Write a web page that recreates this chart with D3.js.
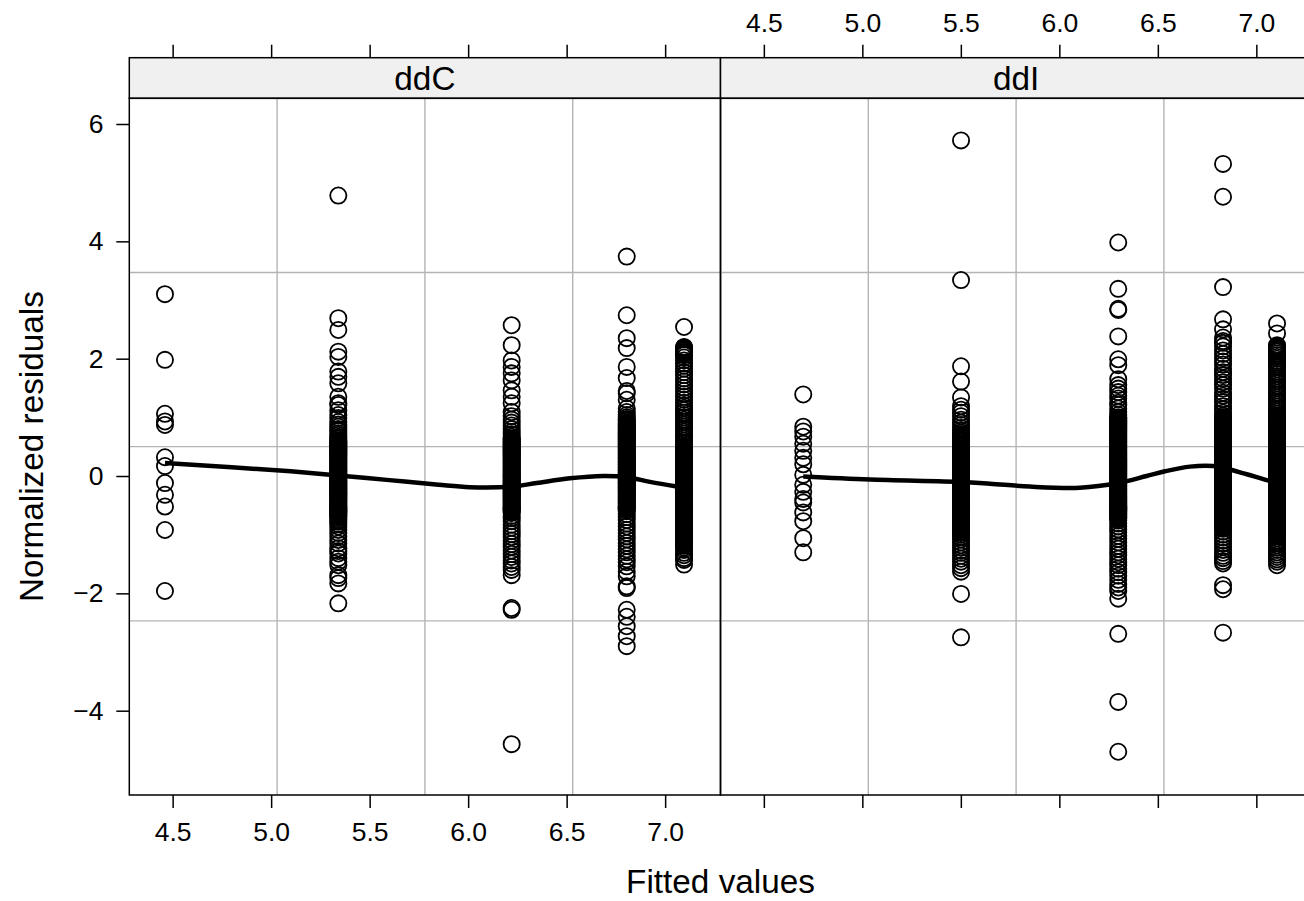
<!DOCTYPE html>
<html><head><meta charset="utf-8">
<script src="https://cdn.jsdelivr.net/npm/d3@7"></script>
<style>
html,body{margin:0;padding:0;background:#fff;overflow:hidden}
svg{display:block;font-family:"Liberation Sans",Arial,Helvetica,sans-serif}
</style></head>
<body>
<svg id="chart" width="1304" height="901"></svg>
<script>
// ---------- data ----------
const panels = ["ddC", "ddI"];
const xTicks = [4.5, 5.0, 5.5, 6.0, 6.5, 7.0];
const xTickLabels = ["4.5", "5.0", "5.5", "6.0", "6.5", "7.0"];
const yTicks = [-4, -2, 0, 2, 4, 6];
const yTickLabels = ["\u22124", "\u22122", "0", "2", "4", "6"];
const xDomain = [4.28, 7.281];
const yDomain = [-5.437, 6.438];

const ddC_fitted = [4.461, 5.341, 6.221, 6.805, 7.096];
const ddC_resid = [
  [3.10, 1.98, 1.06, 0.93, 0.87, 0.32, 0.17, -0.12, -0.32, -0.52, -0.92, -1.96],
  [4.78, 2.69, 2.49, 2.12, 2.03, 1.78, 1.69, 1.58, 1.35, 1.24, 1.21, 1.12, 1.04, 0.99, 0.92, 0.88, 0.84, 0.80, 0.77, 0.73, 0.70, 0.67, 0.64, 0.61, 0.59, 0.56, 0.54, 0.51, 0.49, 0.46, 0.44, 0.41, 0.39, 0.36, 0.34, 0.31, 0.29, 0.26, 0.24, 0.21, 0.19, 0.16, 0.14, 0.11, 0.09, 0.06, 0.04, 0.01, -0.01, -0.04, -0.06, -0.09, -0.11, -0.14, -0.16, -0.19, -0.21, -0.24, -0.26, -0.29, -0.31, -0.34, -0.36, -0.39, -0.41, -0.44, -0.46, -0.49, -0.51, -0.54, -0.56, -0.59, -0.61, -0.64, -0.66, -0.69, -0.72, -0.75, -0.78, -0.82, -0.86, -0.92, -0.97, -1.03, -1.09, -1.15, -1.23, -1.28, -1.32, -1.40, -1.46, -1.52, -1.69, -1.74, -1.83, -2.17],
  [2.57, 2.23, 1.97, 1.86, 1.75, 1.63, 1.46, 1.35, 1.24, 1.09, 1.02, 0.96, 0.91, 0.86, 0.80, 0.75, 0.71, 0.67, 0.64, 0.61, 0.59, 0.56, 0.54, 0.51, 0.49, 0.46, 0.44, 0.41, 0.39, 0.36, 0.34, 0.31, 0.29, 0.26, 0.24, 0.21, 0.19, 0.16, 0.14, 0.11, 0.09, 0.06, 0.04, 0.01, -0.01, -0.04, -0.06, -0.09, -0.11, -0.14, -0.16, -0.19, -0.21, -0.24, -0.26, -0.29, -0.31, -0.34, -0.36, -0.39, -0.41, -0.44, -0.46, -0.49, -0.51, -0.54, -0.56, -0.59, -0.63, -0.68, -0.72, -0.77, -0.83, -0.88, -0.94, -0.99, -1.04, -1.10, -1.16, -1.21, -1.27, -1.33, -1.38, -1.44, -1.49, -1.55, -1.60, -1.69, -2.25, -2.28, -4.57],
  [3.74, 2.74, 2.35, 2.18, 1.86, 1.67, 1.45, 1.41, 1.30, 1.15, 1.09, 1.04, 1.00, 0.97, 0.94, 0.91, 0.88, 0.86, 0.83, 0.81, 0.78, 0.76, 0.73, 0.71, 0.68, 0.66, 0.63, 0.61, 0.58, 0.56, 0.53, 0.51, 0.48, 0.46, 0.43, 0.41, 0.38, 0.36, 0.33, 0.31, 0.28, 0.26, 0.23, 0.21, 0.18, 0.16, 0.13, 0.11, 0.08, 0.06, 0.03, 0.01, -0.02, -0.04, -0.07, -0.09, -0.12, -0.14, -0.17, -0.19, -0.22, -0.24, -0.27, -0.29, -0.32, -0.34, -0.37, -0.39, -0.42, -0.44, -0.47, -0.49, -0.52, -0.54, -0.57, -0.60, -0.65, -0.70, -0.75, -0.81, -0.86, -0.92, -0.97, -1.03, -1.08, -1.14, -1.19, -1.25, -1.30, -1.36, -1.42, -1.47, -1.54, -1.63, -1.71, -1.88, -1.91, -2.28, -2.40, -2.56, -2.73, -2.90],
  [2.54, 2.20, 2.18, 2.16, 2.14, 2.12, 2.10, 2.08, 2.06, 2.02, 1.97, 1.92, 1.88, 1.83, 1.77, 1.72, 1.66, 1.61, 1.56, 1.50, 1.45, 1.40, 1.35, 1.30, 1.25, 1.20, 1.16, 1.12, 1.08, 1.04, 1.00, 0.96, 0.92, 0.88, 0.84, 0.80, 0.76, 0.72, 0.68, 0.64, 0.60, 0.56, 0.52, 0.49, 0.46, 0.44, 0.41, 0.39, 0.36, 0.34, 0.31, 0.29, 0.26, 0.24, 0.21, 0.19, 0.16, 0.14, 0.11, 0.09, 0.06, 0.04, 0.01, -0.01, -0.04, -0.06, -0.09, -0.11, -0.14, -0.16, -0.19, -0.21, -0.24, -0.26, -0.29, -0.31, -0.34, -0.36, -0.39, -0.41, -0.44, -0.46, -0.49, -0.51, -0.54, -0.56, -0.59, -0.61, -0.64, -0.66, -0.69, -0.71, -0.74, -0.76, -0.79, -0.81, -0.84, -0.86, -0.89, -0.91, -0.94, -0.96, -0.99, -1.01, -1.04, -1.06, -1.09, -1.11, -1.14, -1.16, -1.19, -1.22, -1.26, -1.31, -1.35, -1.40, -1.43, -1.51]
];
// additional residuals inside the solid black cores
const ddC_core = [
  [],
  [0.575, 0.525, 0.475, 0.425, 0.375, 0.325, 0.275, 0.225, 0.175, 0.125, 0.075, 0.025, -0.025, -0.075, -0.125, -0.175, -0.225, -0.275, -0.325, -0.375, -0.425, -0.475, -0.525, -0.575, -0.625, -0.675],
  [0.625, 0.575, 0.525, 0.475, 0.425, 0.375, 0.325, 0.275, 0.225, 0.175, 0.125, 0.075, 0.025, -0.025, -0.075, -0.125, -0.175, -0.225, -0.275, -0.325, -0.375, -0.425, -0.475, -0.525, -0.575, -0.61],
  [0.955, 0.895, 0.845, 0.795, 0.745, 0.695, 0.645, 0.595, 0.545, 0.495, 0.445, 0.395, 0.345, 0.295, 0.245, 0.195, 0.145, 0.095, 0.045, -0.005, -0.055, -0.105, -0.155, -0.205, -0.255, -0.305, -0.355, -0.405, -0.455, -0.505, -0.555],
  [0.505, 0.475, 0.425, 0.375, 0.325, 0.275, 0.225, 0.175, 0.125, 0.075, 0.025, -0.025, -0.075, -0.125, -0.175, -0.225, -0.275, -0.325, -0.375, -0.425, -0.475, -0.525, -0.575, -0.625, -0.675, -0.725, -0.775, -0.825, -0.875, -0.925, -0.975, -1.025, -1.075, -1.125, -1.175, 2.19, 2.15, 2.11, 2.07]
];

const ddI_fitted = [4.700, 5.501, 6.299, 6.831, 7.105];
const ddI_resid = [
  [1.39, 0.84, 0.76, 0.67, 0.55, 0.43, 0.31, 0.20, 0.02, -0.15, -0.27, -0.39, -0.45, -0.62, -0.77, -1.06, -1.30],
  [5.72, 3.34, 1.87, 1.61, 1.34, 1.19, 1.13, 1.08, 1.02, 0.96, 0.91, 0.87, 0.82, 0.78, 0.74, 0.71, 0.68, 0.66, 0.63, 0.61, 0.58, 0.56, 0.53, 0.51, 0.48, 0.46, 0.43, 0.41, 0.38, 0.36, 0.33, 0.31, 0.28, 0.26, 0.23, 0.21, 0.18, 0.16, 0.13, 0.11, 0.08, 0.06, 0.03, 0.01, -0.02, -0.04, -0.07, -0.09, -0.12, -0.14, -0.17, -0.19, -0.22, -0.24, -0.27, -0.29, -0.32, -0.34, -0.37, -0.39, -0.42, -0.44, -0.47, -0.49, -0.52, -0.54, -0.57, -0.59, -0.62, -0.64, -0.67, -0.69, -0.72, -0.74, -0.77, -0.79, -0.82, -0.84, -0.87, -0.89, -0.92, -0.94, -0.97, -1.00, -1.04, -1.08, -1.13, -1.18, -1.22, -1.27, -1.31, -1.36, -1.41, -1.46, -1.52, -1.57, -1.63, -2.01, -2.75],
  [3.98, 3.19, 2.85, 2.83, 2.38, 1.99, 1.89, 1.65, 1.55, 1.49, 1.43, 1.37, 1.32, 1.25, 1.21, 1.15, 1.09, 1.04, 1.00, 0.97, 0.95, 0.92, 0.90, 0.87, 0.85, 0.82, 0.80, 0.77, 0.75, 0.72, 0.70, 0.67, 0.65, 0.62, 0.60, 0.57, 0.55, 0.52, 0.50, 0.47, 0.45, 0.42, 0.40, 0.37, 0.35, 0.32, 0.30, 0.27, 0.25, 0.22, 0.20, 0.17, 0.15, 0.12, 0.10, 0.07, 0.05, 0.02, 0.00, -0.03, -0.05, -0.08, -0.10, -0.13, -0.15, -0.18, -0.20, -0.23, -0.25, -0.28, -0.30, -0.33, -0.35, -0.38, -0.40, -0.43, -0.45, -0.48, -0.50, -0.53, -0.55, -0.58, -0.60, -0.63, -0.65, -0.68, -0.70, -0.73, -0.76, -0.81, -0.86, -0.91, -0.96, -1.02, -1.07, -1.13, -1.19, -1.24, -1.30, -1.35, -1.41, -1.47, -1.52, -1.58, -1.64, -1.70, -1.77, -1.84, -1.90, -1.96, -2.09, -2.69, -3.85, -4.70],
  [5.32, 4.76, 3.22, 2.67, 2.50, 2.36, 2.30, 2.27, 2.21, 2.14, 2.08, 2.01, 1.95, 1.90, 1.83, 1.77, 1.72, 1.66, 1.60, 1.55, 1.49, 1.42, 1.37, 1.31, 1.26, 1.19, 1.14, 1.08, 1.03, 1.00, 0.97, 0.95, 0.92, 0.90, 0.87, 0.85, 0.82, 0.80, 0.77, 0.75, 0.72, 0.70, 0.67, 0.65, 0.62, 0.60, 0.57, 0.55, 0.52, 0.50, 0.47, 0.45, 0.42, 0.40, 0.37, 0.35, 0.32, 0.30, 0.27, 0.25, 0.22, 0.20, 0.17, 0.15, 0.12, 0.10, 0.07, 0.05, 0.02, 0.00, -0.03, -0.05, -0.08, -0.10, -0.13, -0.15, -0.18, -0.20, -0.23, -0.25, -0.28, -0.30, -0.33, -0.35, -0.38, -0.40, -0.43, -0.45, -0.48, -0.50, -0.53, -0.55, -0.58, -0.60, -0.63, -0.65, -0.68, -0.70, -0.73, -0.75, -0.78, -0.80, -0.83, -0.85, -0.88, -0.90, -0.95, -1.00, -1.05, -1.10, -1.15, -1.21, -1.26, -1.31, -1.36, -1.40, -1.45, -1.49, -1.86, -1.93, -2.67],
  [2.60, 2.43, 2.23, 2.20, 2.18, 2.15, 2.12, 2.09, 2.06, 2.03, 2.00, 1.96, 1.93, 1.90, 1.86, 1.82, 1.78, 1.74, 1.70, 1.66, 1.62, 1.58, 1.54, 1.50, 1.46, 1.42, 1.38, 1.34, 1.30, 1.26, 1.22, 1.18, 1.14, 1.10, 1.06, 1.02, 0.99, 0.96, 0.94, 0.91, 0.89, 0.86, 0.84, 0.81, 0.79, 0.76, 0.74, 0.71, 0.69, 0.66, 0.64, 0.61, 0.59, 0.56, 0.54, 0.51, 0.49, 0.46, 0.44, 0.41, 0.39, 0.36, 0.34, 0.31, 0.29, 0.26, 0.24, 0.21, 0.19, 0.16, 0.14, 0.11, 0.09, 0.06, 0.04, 0.01, -0.01, -0.04, -0.06, -0.09, -0.11, -0.14, -0.16, -0.19, -0.21, -0.24, -0.26, -0.29, -0.31, -0.34, -0.36, -0.39, -0.41, -0.44, -0.46, -0.49, -0.51, -0.54, -0.56, -0.59, -0.61, -0.64, -0.66, -0.69, -0.71, -0.74, -0.76, -0.79, -0.81, -0.84, -0.86, -0.89, -0.91, -0.94, -0.96, -0.99, -1.02, -1.06, -1.10, -1.14, -1.18, -1.22, -1.26, -1.30, -1.34, -1.38, -1.42, -1.46, -1.52]
];
const ddI_core = [
  [],
  [0.695, 0.645, 0.595, 0.545, 0.495, 0.445, 0.395, 0.345, 0.295, 0.245, 0.195, 0.145, 0.095, 0.045, -0.005, -0.055, -0.105, -0.155, -0.205, -0.255, -0.305, -0.355, -0.405, -0.455, -0.505, -0.555, -0.605, -0.655, -0.705, -0.755, -0.805, -0.855, -0.905, -0.955],
  [0.985, 0.935, 0.885, 0.835, 0.785, 0.735, 0.685, 0.635, 0.585, 0.535, 0.485, 0.435, 0.385, 0.335, 0.285, 0.235, 0.185, 0.135, 0.085, 0.035, -0.015, -0.065, -0.115, -0.165, -0.215, -0.265, -0.315, -0.365, -0.415, -0.465, -0.515, -0.565, -0.615, -0.665, -0.715],
  [0.985, 0.935, 0.885, 0.835, 0.785, 0.735, 0.685, 0.635, 0.585, 0.535, 0.485, 0.435, 0.385, 0.335, 0.285, 0.235, 0.185, 0.135, 0.085, 0.035, -0.015, -0.065, -0.115, -0.165, -0.215, -0.265, -0.315, -0.365, -0.415, -0.465, -0.515, -0.565, -0.615, -0.665, -0.715, -0.765, -0.815, -0.865],
  [0.975, 0.925, 0.875, 0.825, 0.775, 0.725, 0.675, 0.625, 0.575, 0.525, 0.475, 0.425, 0.375, 0.325, 0.275, 0.225, 0.175, 0.125, 0.075, 0.025, -0.025, -0.075, -0.125, -0.175, -0.225, -0.275, -0.325, -0.375, -0.425, -0.475, -0.525, -0.575, -0.625, -0.675, -0.725, -0.775, -0.825, -0.875, -0.925, -0.975, 2.21, 2.17, 2.13]
];

// smoother (loess) curve
const ddC_smoothX = [4.461, 4.80, 5.10, 5.341, 5.60, 5.85, 6.009, 6.221, 6.348, 6.517, 6.685, 6.805, 6.923, 7.059, 7.096];
const ddC_smoothY = [0.22, 0.15, 0.08, 0.01, -0.07, -0.15, -0.19, -0.18, -0.12, -0.04, 0.00, -0.02, -0.10, -0.18, -0.20];
const ddI_smoothX = [4.700, 5.038, 5.501, 5.648, 5.85, 6.104, 6.299, 6.443, 6.536, 6.663, 6.780, 6.831, 6.951, 7.053, 7.105];
const ddI_smoothY = [-0.01, -0.06, -0.10, -0.13, -0.18, -0.20, -0.12, 0.00, 0.08, 0.16, 0.17, 0.14, 0.03, -0.07, -0.11];

// ---------- layout ----------
const panelLeft = 129.3, panelW = 591.2;
const panelTop = 98.3, panelBottom = 795;
const stripTop = 57.7;
const tickLen = 13;
const tickFont = 26.5, titleFont = 33.3;

const svg = d3.select("#chart");
const y = d3.scaleLinear().domain(yDomain).range([panelBottom, panelTop]);

const panelData = [
  {name: panels[0], fitted: ddC_fitted, resid: ddC_resid, core: ddC_core, sx: ddC_smoothX, sy: ddC_smoothY},
  {name: panels[1], fitted: ddI_fitted, resid: ddI_resid, core: ddI_core, sx: ddI_smoothX, sy: ddI_smoothY}
];

panelData.forEach((p, i) => {
  const x0 = panelLeft + i * panelW;
  const x = d3.scaleLinear().domain(xDomain).range([x0, x0 + panelW]);
  const g = svg.append("g");

  // grid at quarters of the panel
  const gx = [0.25, 0.5, 0.75].map(f => x.invert(x0 + f * panelW));
  const gy = [0.25, 0.5, 0.75].map(f => y.invert(panelTop + f * (panelBottom - panelTop)));
  g.selectAll("line.gv").data(gx).join("line")
    .attr("x1", d => x(d)).attr("x2", d => x(d))
    .attr("y1", panelTop).attr("y2", panelBottom)
    .attr("stroke", "#b4b4b4").attr("stroke-width", 1.4);
  g.selectAll("line.gh").data(gy).join("line")
    .attr("x1", x0).attr("x2", x0 + panelW)
    .attr("y1", d => y(d)).attr("y2", d => y(d))
    .attr("stroke", "#b4b4b4").attr("stroke-width", 1.4);

  // points
  const pts = [];
  p.fitted.forEach((fv, k) => {
    p.resid[k].forEach(r => pts.push([fv, r]));
    p.core[k].forEach(r => pts.push([fv, r]));
  });
  g.selectAll("circle").data(pts).join("circle")
    .attr("cx", d => x(d[0])).attr("cy", d => y(d[1])).attr("r", 8.1)
    .attr("fill", "none").attr("stroke", "#000").attr("stroke-width", 1.8);

  // smoother
  const line = d3.line().x(d => x(d[0])).y(d => y(d[1])).curve(d3.curveCatmullRom.alpha(0.5));
  g.append("path").datum(p.sx.map((v, k) => [v, p.sy[k]]))
    .attr("d", line).attr("fill", "none").attr("stroke", "#000").attr("stroke-width", 4.5)
    .attr("stroke-linejoin", "round");

  // strip
  g.append("rect").attr("x", x0).attr("y", stripTop).attr("width", panelW).attr("height", panelTop - stripTop)
    .attr("fill", "#f0f0f0").attr("stroke", "#000").attr("stroke-width", 1.5);
  g.append("text").attr("x", x0 + panelW / 2).attr("y", 89.8)
    .attr("text-anchor", "middle").attr("font-size", titleFont).attr("fill", "#000").text(p.name);

  // panel border
  g.append("rect").attr("x", x0).attr("y", panelTop).attr("width", panelW).attr("height", panelBottom - panelTop)
    .attr("fill", "none").attr("stroke", "#000").attr("stroke-width", 1.5);

  // axes
  const bottomAxis = d3.axisBottom(x).tickValues(xTicks).tickSize(tickLen).tickPadding(14)
    .tickFormat((d, k) => i === 0 ? xTickLabels[k] : "");
  const topAxis = d3.axisTop(x).tickValues(xTicks).tickSize(tickLen).tickPadding(12.7)
    .tickFormat((d, k) => i === 1 ? xTickLabels[k] : "");
  const ab = g.append("g").attr("transform", `translate(0,${panelBottom})`).call(bottomAxis);
  const at = g.append("g").attr("transform", `translate(0,${stripTop})`).call(topAxis);
  [ab, at].forEach(a => {
    a.select(".domain").remove();
    a.selectAll(".tick line").attr("stroke", "#000").attr("stroke-width", 1.5);
    a.selectAll(".tick text").attr("font-size", tickFont).attr("fill", "#000").attr("font-family", null);
  });
  if (i === 0) {
    const leftAxis = d3.axisLeft(y).tickValues(yTicks).tickSize(tickLen).tickPadding(12.8)
      .tickFormat((d, k) => yTickLabels[k]);
    const al = g.append("g").attr("transform", `translate(${x0},0)`).call(leftAxis);
    al.select(".domain").remove();
    al.selectAll(".tick line").attr("stroke", "#000").attr("stroke-width", 1.5);
    al.selectAll(".tick text").attr("font-size", tickFont).attr("fill", "#000").attr("font-family", null);
  } else {
    const rightAxis = d3.axisRight(y).tickValues(yTicks).tickSize(tickLen).tickFormat(() => "");
    const ar = g.append("g").attr("transform", `translate(${x0 + panelW},0)`).call(rightAxis);
    ar.select(".domain").remove();
    ar.selectAll(".tick line").attr("stroke", "#000").attr("stroke-width", 1.5);
  }
});

// axis titles
svg.append("text").attr("x", panelLeft + panelW).attr("y", 893)
  .attr("text-anchor", "middle").attr("font-size", titleFont).attr("fill", "#000").text("Fitted values");
svg.append("text").attr("transform", `translate(43,${(panelTop + panelBottom) / 2}) rotate(-90)`)
  .attr("text-anchor", "middle").attr("font-size", titleFont).attr("fill", "#000").text("Normalized residuals");
</script>
</body></html>
